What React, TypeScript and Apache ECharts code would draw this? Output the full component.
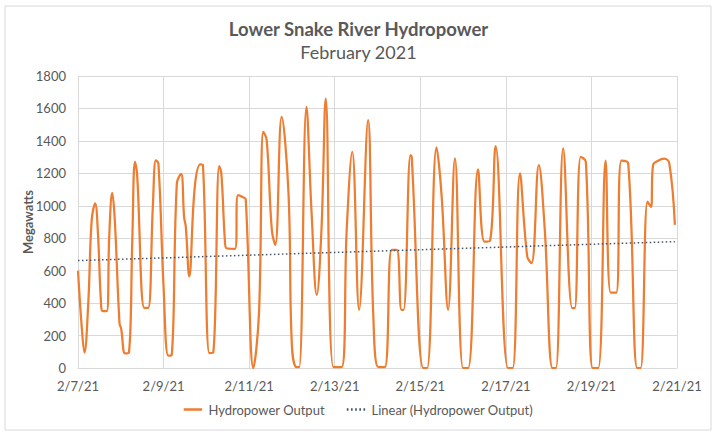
import React, { useEffect, useRef } from "react";
import * as echarts from "echarts";

// Day offset from 2/7/21 (fractional days)
const times = [
  0.0, 0.086, 0.15, 0.24, 0.32, 0.4, 0.47, 0.53, 0.58, 0.67, 0.73, 0.8, 0.86, 0.97, 1.01, 1.1, 1.19,
  1.27, 1.33, 1.38, 1.55, 1.64, 1.75, 1.82, 1.88, 2.0, 2.11, 2.19, 2.31, 2.41, 2.48, 2.52, 2.6,
  2.73, 2.86, 2.92, 3.07, 3.16, 3.3, 3.35, 3.43, 3.47, 3.67, 3.74, 3.86, 3.92, 4.1, 4.23, 4.33,
  4.41, 4.53, 4.61, 4.76, 4.92, 5.0, 5.11, 5.17, 5.34, 5.46, 5.58, 5.69, 5.79, 5.97, 6.16, 6.28,
  6.41, 6.57, 6.78, 6.9, 7.02, 7.17, 7.33, 7.45, 7.56, 7.61, 7.77, 7.8, 8.07, 8.16, 8.38, 8.5,
  8.65, 8.81, 9.0, 9.12, 9.35, 9.5, 9.63, 9.76, 10.05, 10.16, 10.33, 10.5, 10.6, 10.77, 10.91,
  11.09, 11.17, 11.34, 11.55, 11.61, 11.75, 11.87, 12.03, 12.16, 12.33, 12.45, 12.58, 12.7,
  12.86, 13.07, 13.15, 13.31, 13.39, 13.44, 13.56, 13.7, 13.82, 13.95,
];

// Hydropower output, megawatts
const hydropowerOutput = [
  600, 256, 95, 400, 912, 1015, 810, 441, 350, 350, 810, 1080, 912, 277, 240, 90, 95,
  800, 1270, 1200, 370, 370, 1000, 1280, 1260, 500, 76, 80, 1138, 1196, 930, 870, 565,
  1118, 1255, 1250, 92, 95, 1245, 1200, 800, 738, 735, 1066, 1052, 1040, 0, 338, 1456,
  1405, 851, 759, 1548, 1077, 133, 5, 5, 1610, 954, 451, 851, 1661, 5, 5, 851,
  1333, 359, 1528, 338, 5, 5, 728, 728, 359, 359, 1313, 1300, 0, 0, 1360, 1056,
  359, 1292, 0, 0, 1225, 779, 785, 1368, 0, 0, 1200, 687, 646, 1251, 851,
  0, 0, 1354, 369, 369, 1302, 1271, 0, 0, 1278, 465, 465, 1278,
  1261, 0, 0, 1025, 994, 1251, 1278, 1290, 1261, 882,
];

// Linear trend endpoints
const trendTimes = [0, 13.95];
const trendValues = [662, 779];

const xTickLabels = ["2/7/21", "2/9/21", "2/11/21", "2/13/21", "2/15/21", "2/17/21", "2/19/21", "2/21/21"];

const FONT = "Lato, 'Open Sans', sans-serif";
const TXT = "#595959";

const SOLID_ICON = "path://M0,0 L22,0 L22,3 L0,3 Z";
const DOTTED_ICON =
  "path://M0,0 L2,0 L2,3 L0,3 Z M5,0 L7,0 L7,3 L5,3 Z M10,0 L12,0 L12,3 L10,3 Z M15,0 L17,0 L17,3 L15,3 Z M20,0 L22,0 L22,3 L20,3 Z";

export default function App() {
  const ref = useRef<HTMLDivElement>(null);
  useEffect(() => {
    if (!ref.current) return;
    const chart = echarts.init(ref.current, undefined, { renderer: "svg" });
    chart.setOption({
      animation: false,
      backgroundColor: "#ffffff",
      textStyle: { fontFamily: FONT },
      graphic: [
        {
          type: "rect",
          shape: { x: 5, y: 6, width: 706, height: 424 },
          style: { fill: "none", stroke: "#D9D9D9", lineWidth: 1 },
          silent: true,
        },
      ],
      title: [
        {
          text: "Lower Snake River Hydropower",
          left: "center",
          top: 14,
          textStyle: { fontFamily: FONT, fontSize: 18.5, fontWeight: "bold", color: TXT },
        },
        {
          text: "February 2021",
          left: "center",
          top: 38,
          textStyle: { fontFamily: FONT, fontSize: 18, fontWeight: "normal", color: TXT },
        },
      ],
      legend: {
        bottom: 17,
        left: "center",
        itemWidth: 21,
        itemHeight: 2.5,
        itemGap: 22,
        textStyle: { fontFamily: FONT, fontSize: 13, color: TXT },
        data: [
          { name: "Hydropower Output", icon: SOLID_ICON },
          { name: "Linear (Hydropower Output)", icon: DOTTED_ICON },
        ],
      },
      grid: { left: 78, right: 40, top: 76, bottom: 70 },
      xAxis: {
        type: "value",
        min: 0,
        max: 14,
        interval: 2,
        axisLine: { show: true, lineStyle: { color: "#D9D9D9" } },
        axisTick: { show: false },
        splitLine: { show: true, lineStyle: { color: "#D9D9D9" } },
        axisLabel: {
          color: TXT,
          fontFamily: FONT,
          fontSize: 13,
          margin: 11,
          formatter: (v: number) => xTickLabels[Math.round(v / 2)] ?? "",
        },
      },
      yAxis: {
        type: "value",
        min: 0,
        max: 1800,
        interval: 200,
        name: "Megawatts",
        nameLocation: "middle",
        nameRotate: 90,
        nameGap: 44,
        nameMoveOverlap: false,
        nameTextStyle: { color: TXT, fontFamily: FONT, fontSize: 13, fontWeight: "bold" },
        axisLine: { show: false },
        axisTick: { show: false },
        splitLine: { show: true, lineStyle: { color: "#D9D9D9" } },
        axisLabel: {
          color: TXT,
          fontFamily: FONT,
          fontSize: 13,
          margin: 12,
          formatter: (v: number) => String(v),
        },
      },
      series: [
        {
          name: "Hydropower Output",
          type: "line",
          data: times.map((t, i) => [t, hydropowerOutput[i]]),
          smooth: 0.4,
          symbol: "none",
          clip: true,
          lineStyle: { color: "#ED7D31", width: 2.25 },
          itemStyle: { color: "#ED7D31" },
        },
        {
          name: "Linear (Hydropower Output)",
          type: "line",
          data: trendTimes.map((t, i) => [t, trendValues[i]]),
          symbol: "none",
          lineStyle: { color: "#44546A", width: 1.5, type: [1.5, 2.5] },
          itemStyle: { color: "#44546A" },
        },
      ],
    });
    return () => chart.dispose();
  }, []);
  return (
    <div
      ref={ref}
      style={{ position: "fixed", left: 0, top: 0, width: 717, height: 438 }}
    />
  );
}
